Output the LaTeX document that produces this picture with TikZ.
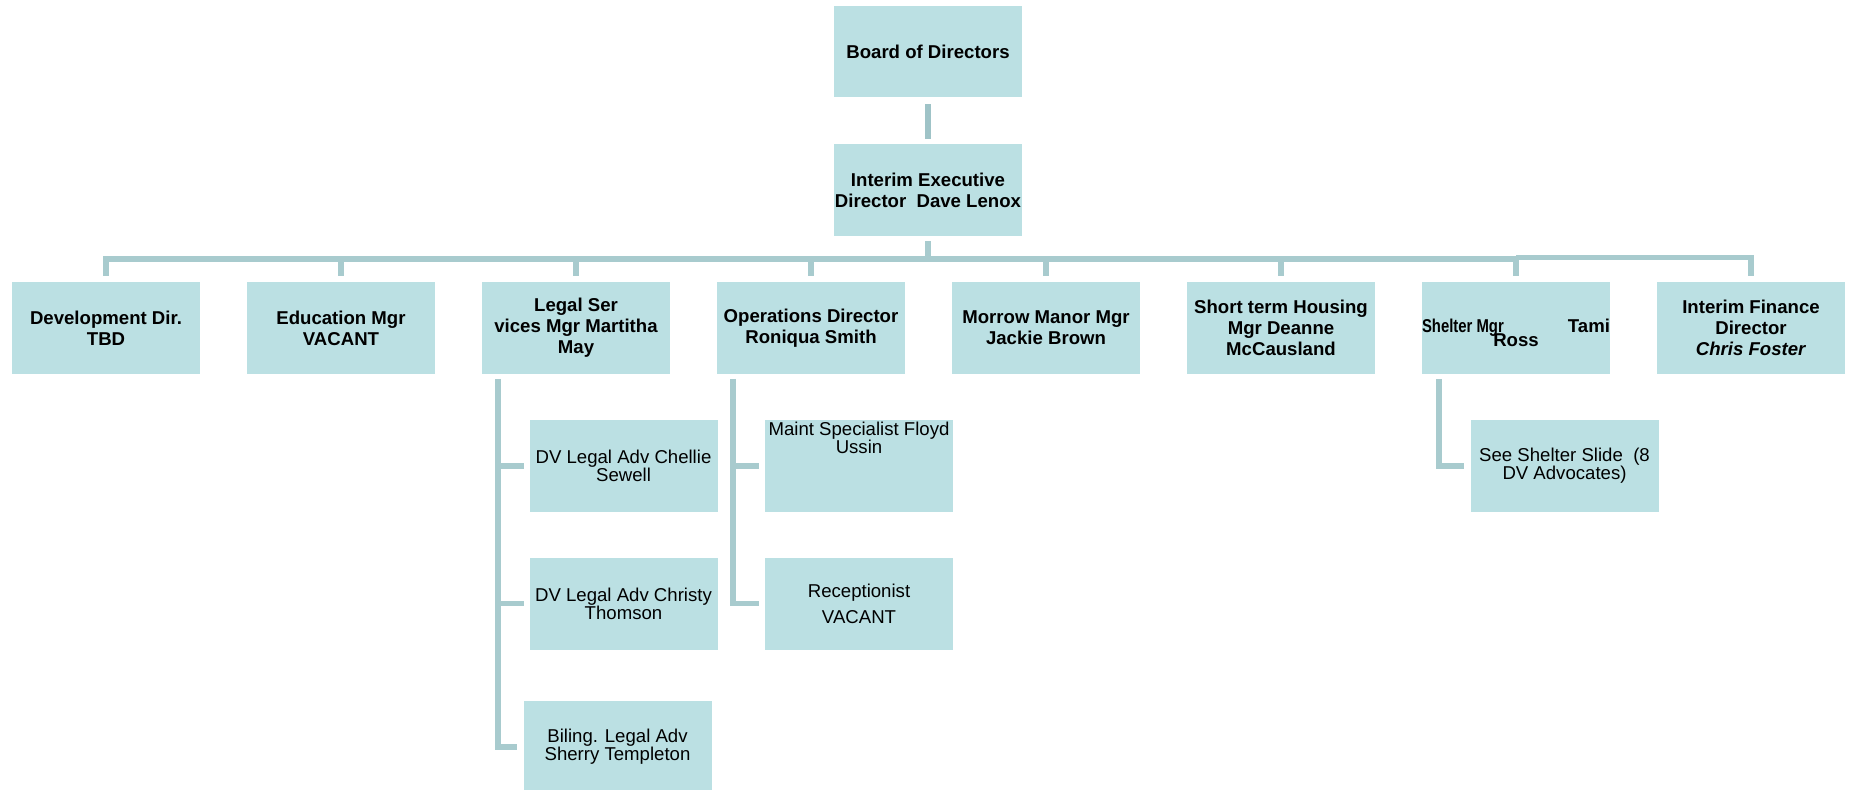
\documentclass[tikz,border=0pt]{standalone}
\usepackage{graphicx}
\usepackage{fontspec}
\setmainfont{Liberation Sans}
\definecolor{boxfill}{HTML}{BBE0E3}
\definecolor{linec}{HTML}{A8CBCE}
\definecolor{topline}{HTML}{9FC3C7}
\begin{document}
\begin{tikzpicture}[x=0.5pt,y=-0.5pt,
  box/.style={rectangle, fill=boxfill, inner sep=0pt, minimum width=94pt, minimum height=46pt, align=center},
  boldbox/.style={box, font=\fontsize{9.3}{10.5}\selectfont\bfseries},
  plainbox/.style={box, font=\fontsize{9.3}{9.15}\selectfont},
  conn/.style={draw=linec, line width=2.85pt},
  topconn/.style={draw=topline, line width=3pt}]
\useasboundingbox (0,0) rectangle (1850,790);

% top
\node[boldbox, minimum height=45.5pt] (board) at (928,51.5) {Board of Directors};
\node[boldbox] (ed) at (928,190) {Interim Executive\\Director\ \ Dave Lenox};

% level 2
\node[boldbox] (dev) at (106,328) {Development Dir.\\TBD};
\node[boldbox] (edu) at (341,328) {Education Mgr\\VACANT};
\node[boldbox] (legal) at (576,328) {Legal Ser\\vices Mgr Martitha\\May};
\node[boldbox] (ops) at (811,328) {Operations Director\\Roniqua Smith};
\node[boldbox] (morrow) at (1046,328) {Morrow Manor Mgr\\Jackie Brown};
\node[boldbox] (short) at (1281,328) {Short term Housing\\Mgr Deanne\\McCausland};
\node[boldbox] (shelter) at (1516,328) {\parbox[c][46pt][t]{94pt}{\centering\vspace*{18.7pt}\makebox[94pt]{\scalebox{0.8}[1]{Shelter Mgr}\hfill Tami}\\[-3.5pt]Ross}};
\node[boldbox] (fin) at (1751,328) {Interim Finance\\Director\\\textit{Chris Foster}};

% level 3
\node[plainbox] (chellie) at (623.5,466) {DV Legal Adv Chellie\\Sewell};
\node[plainbox] (christy) at (623.5,603.5) {DV Legal Adv Christy\\Thomson};
\node[plainbox] (biling) at (617.5,747) {Biling. Legal Adv\\Sherry Templeton};
\node[plainbox] (maint) at (859,466) {\parbox[c][46pt][t]{94pt}{\centering\vspace*{1pt}Maint Specialist Floyd\\Ussin}};
\node[plainbox] (recep) at (859,603.5) {Receptionist\\[3.9pt]VACANT};
\node[plainbox] (see) at (1564.5,466) {See Shelter Slide\ \ (8\\DV Advocates)};

% connectors
\coordinate (bus) at (928,259);
\coordinate (busf) at (928,257.5);
\draw[topconn] ([yshift=-3.5pt]board.south) -- ([yshift=2.5pt]ed.north);
\draw[conn] ([yshift=-2.5pt]ed.south) -- (bus);
\draw[conn] ([yshift=3pt]dev.north) |- (shelter.north |- bus) -- ([yshift=3pt]shelter.north);
\foreach \n in {edu,legal,ops,morrow,short}
  \draw[conn] (\n.north |- bus) -- ([yshift=3pt]\n.north);
\draw[conn] (shelter.north |- busf) -| ([yshift=3pt]fin.north);

\coordinate (lt) at (498,379);
\draw[conn] (lt) |- ([xshift=-3pt]biling.west);
\draw[conn] (lt |- chellie.west) -- ([xshift=-2.5pt]chellie.west);
\draw[conn] (lt |- christy.west) -- ([xshift=-2.5pt]christy.west);

\coordinate (ot) at (733,379);
\draw[conn] (ot) |- ([xshift=-3pt]recep.west);
\draw[conn] (ot |- maint.west) -- ([xshift=-3pt]maint.west);

\coordinate (st) at (1439,379);
\draw[conn] (st) |- ([xshift=-3pt]see.west);
\end{tikzpicture}
\end{document}
